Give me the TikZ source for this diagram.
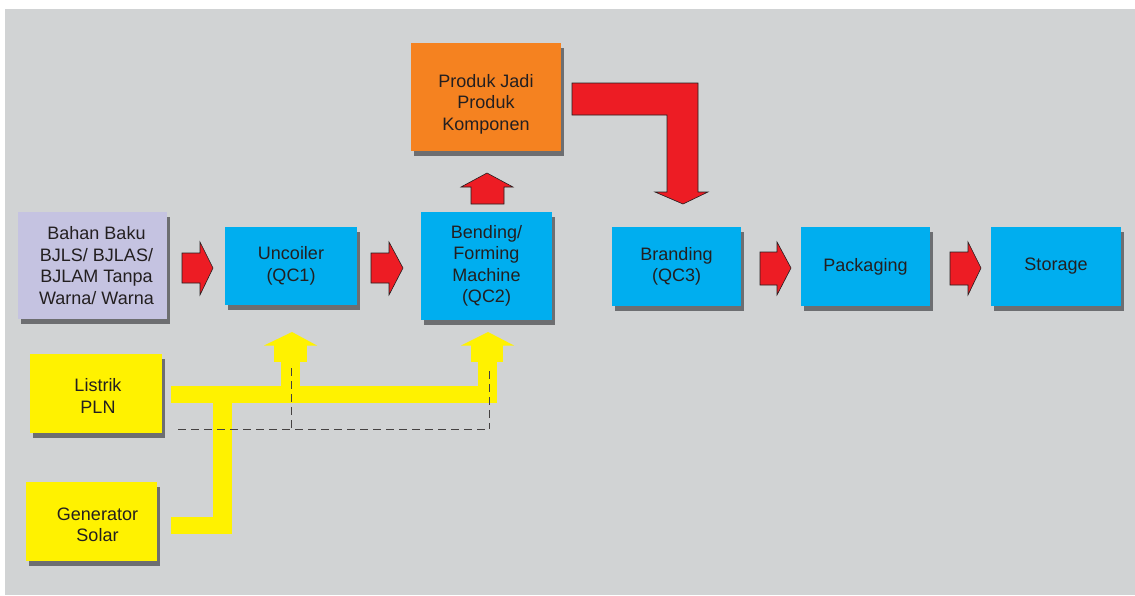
\documentclass[tikz,border=0pt]{standalone}
\usepackage{fontspec}
\setmainfont{Liberation Sans}
\usetikzlibrary{shadows,calc}
\definecolor{bggray}{HTML}{D1D3D4}
\definecolor{shadowc}{HTML}{6D6E71}
\definecolor{lav}{HTML}{C5C3E1}
\definecolor{skyb}{HTML}{00AEEF}
\definecolor{orng}{HTML}{F58220}
\definecolor{yell}{HTML}{FFF200}
\definecolor{redc}{HTML}{ED1C24}
\definecolor{inkc}{HTML}{231F20}
\tikzset{
  box/.style={rectangle, inner sep=0pt, align=center, text=inkc,
    font=\fontsize{18}{21.5}\selectfont,
    drop shadow={shadow xshift=2.5pt, shadow yshift=-4.5pt, fill=shadowc, opacity=1}},
  txt/.style={align=center, text=inkc, inner sep=0pt, font=\fontsize{18}{21.5}\selectfont},
  blockarrow/.style={fill=redc, draw=inkc, line width=0.6pt, line join=miter},
  power/.style={fill=yell, draw=none},
  ctrl/.style={draw=inkc!85, line width=1pt, dash pattern=on 8pt off 5pt},
}
\begin{document}
\begin{tikzpicture}[x=1pt,y=-1pt]
\useasboundingbox (0,0) rectangle (1135,595);
\fill[bggray] (5,9) rectangle (1135,595);

% boxes
\node[box, fill=lav, minimum width=149pt, minimum height=107pt,
  label={[txt,xshift=4pt]center:{Bahan Baku\\BJLS/ BJLAS/\\BJLAM Tanpa\\Warna/ Warna}}] (bahan) at (92.5,265.5) {};
\node[box, fill=skyb, minimum width=132pt, minimum height=78pt] (uncoiler) at (291,266) {Uncoiler\\(QC1)};
\node[box, fill=skyb, minimum width=131pt, minimum height=108pt] (bending) at (486.5,266) {Bending/\\Forming\\Machine\\(QC2)};
\node[box, fill=orng, minimum width=150pt, minimum height=108pt,
  label={[txt,yshift=-7pt]center:{Produk Jadi\\Produk\\Komponen}}] (produk) at (486,97) {};
\node[box, fill=skyb, minimum width=129pt, minimum height=79pt] (branding) at (676.5,266.5) {Branding\\(QC3)};
\node[box, fill=skyb, minimum width=129pt, minimum height=79pt] (packaging) at (865.5,266.5) {Packaging};
\node[box, fill=skyb, minimum width=130pt, minimum height=79pt] (storage) at (1056,266.5) {Storage};
\node[box, fill=yell, minimum width=132pt, minimum height=79pt,
  label={[txt,xshift=2pt,yshift=-2.5pt]center:{Listrik\\PLN}}] (listrik) at (96,393.5) {};
\node[box, fill=yell, minimum width=131pt, minimum height=79pt,
  label={[txt,xshift=6pt,yshift=-3.5pt]center:{Generator\\Solar}}] (generator) at (91.5,521.5) {};

% red block arrows
\draw[blockarrow] (182,253) -- (200,253) -- (200,242) -- (213,268) -- (200,295) -- (200,283) -- (182,283) -- cycle;
\draw[blockarrow] (371,253) -- (389,253) -- (389,242) -- (403,268) -- (389,295) -- (389,283) -- (371,283) -- cycle;
\draw[blockarrow] (760,252) -- (777,252) -- (777,242) -- (791,268) -- (777,295) -- (777,285) -- (760,285) -- cycle;
\draw[blockarrow] (950,252) -- (968,252) -- (968,242) -- (981,268) -- (968,295) -- (968,285) -- (950,285) -- cycle;
\draw[blockarrow] (471,204) -- (471,187) -- (461,187) -- (487,173) -- (513,187) -- (504,187) -- (504,204) -- cycle;
\draw[blockarrow] (572,83) -- (698,83) -- (698,192) -- (708,192) -- (683,204) -- (655,192) -- (667,192) -- (667,115) -- (572,115) -- cycle;

% yellow power lines
\fill[power] (171,386) rectangle (497,403);
\fill[power] (213,403) rectangle (232,534);
\fill[power] (171,517) rectangle (232,534);
\fill[power] (281,361) rectangle (300,387);
\fill[power] (274,345) rectangle (307,362);
\fill[power] (264,345.5) -- (292,332) -- (317,345.5) -- cycle;
\fill[power] (478,361) rectangle (497,387);
\fill[power] (471,345) rectangle (503,362);
\fill[power] (461,345.5) -- (488,332) -- (514,345.5) -- cycle;

% dashed control lines
\draw[ctrl] (178,429) -- (489,429);
\draw[ctrl] (291,368) -- (291,429);
\draw[ctrl] (489,371) -- (489,429);
\end{tikzpicture}
\end{document}
